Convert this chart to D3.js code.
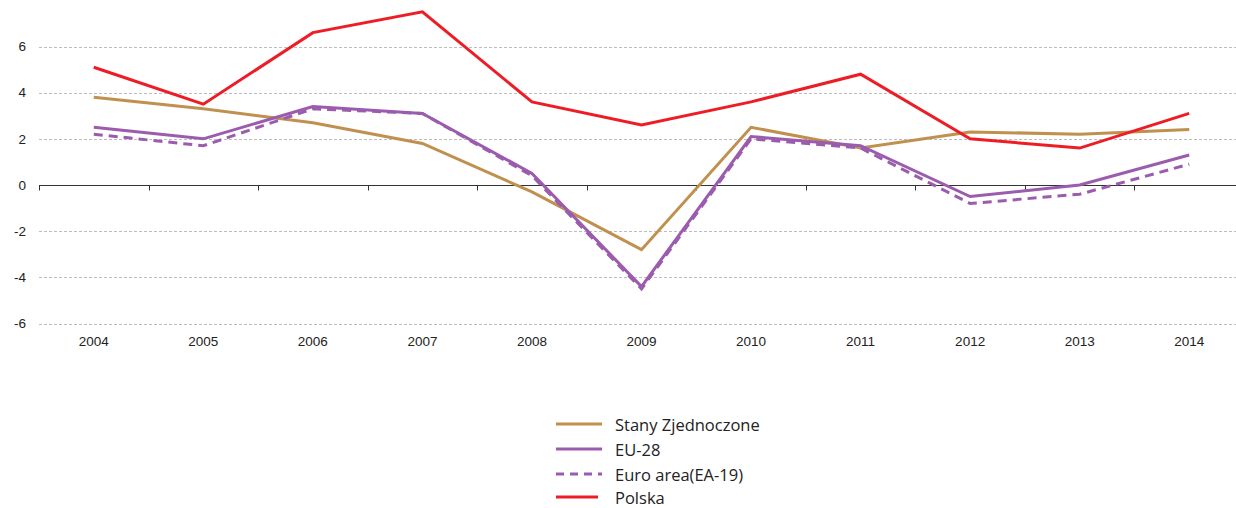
<!DOCTYPE html>
<html>
<head><meta charset="utf-8">
<title>GDP growth</title>
<style>
body { margin:0; background:#fff; }
.tick text { font-family:"Liberation Sans", Arial, sans-serif; font-size:13.5px; fill:#222; }
.legend text { font-family:"Open Sans", "Liberation Sans", sans-serif; font-size:16.5px; fill:#222; }
</style>
</head>
<body>
<svg width="1236" height="508"></svg>
<script src="https://d3js.org/d3.v7.min.js"></script>
<script>
var years = ["2004","2005","2006","2007","2008","2009","2010","2011","2012","2013","2014"];
var yTicks = [-6,-4,-2,0,2,4,6];
var usa = [3.8, 3.3, 2.7, 1.8, -0.3, -2.8, 2.5, 1.6, 2.3, 2.2, 2.4];
var eu28 = [2.5, 2.0, 3.4, 3.1, 0.5, -4.4, 2.1, 1.7, -0.5, 0.0, 1.3];
var ea19 = [2.2, 1.7, 3.3, 3.1, 0.4, -4.5, 2.0, 1.6, -0.8, -0.4, 0.9];
var polska = [5.1, 3.5, 6.6, 7.5, 3.6, 2.6, 3.6, 4.8, 2.0, 1.6, 3.1];

var series = [
  {name:"Stany Zjednoczone", values:usa, color:"#c0904f", dash:null},
  {name:"EU-28", values:eu28, color:"#9b5cae", dash:null},
  {name:"Euro area(EA-19)", values:ea19, color:"#9b5cae", dash:"9,6"},
  {name:"Polska", values:polska, color:"#ee1c25", dash:null}
];

var svg = d3.select("svg");
var x = d3.scaleBand().domain(years).range([39, 1244]);
var y = d3.scaleLinear().domain([-6, 6]).range([323.5, 46.5]);

// gridlines
svg.append("g").selectAll("line")
  .data(yTicks.filter(function(d) { return d !== 0; }))
  .enter().append("line")
    .attr("x1", 39).attr("x2", 1244)
    .attr("y1", function(d) { return Math.round(y(d)) + 0.5; })
    .attr("y2", function(d) { return Math.round(y(d)) + 0.5; })
    .attr("stroke", "#bdbdbd")
    .attr("stroke-dasharray", "3,2");

// y labels (plain hyphen for negatives like the original)
var yAxis = svg.append("g").attr("transform", "translate(26,0)")
  .call(d3.axisLeft(y).tickValues(yTicks).tickSize(0).tickPadding(0)
    .tickFormat(function(d) { return String(d); }));
yAxis.select(".domain").remove();

// zero axis with ticks between categories
var zy = Math.round(y(0)) + 0.5;
svg.append("line").attr("x1", 39).attr("x2", 1244).attr("y1", zy).attr("y2", zy)
  .attr("stroke", "#333").attr("stroke-width", 1);
svg.append("g").selectAll("line")
  .data(years)
  .enter().append("line")
    .attr("x1", function(d) { return Math.round(x(d)) + 0.5; })
    .attr("x2", function(d) { return Math.round(x(d)) + 0.5; })
    .attr("y1", zy).attr("y2", zy + 5)
    .attr("stroke", "#333");

// x labels
var xAxis = svg.append("g").attr("transform", "translate(0,330)")
  .call(d3.axisBottom(x).tickSize(0).tickPadding(6));
xAxis.select(".domain").remove();

var line = d3.line()
  .x(function(d, i) { return x(years[i]) + x.bandwidth() / 2; })
  .y(function(d) { return y(d); });

svg.append("g").selectAll("path")
  .data(series)
  .enter().append("path")
    .attr("d", function(s) { return line(s.values); })
    .attr("fill", "none")
    .attr("stroke", function(s) { return s.color; })
    .attr("stroke-width", 3)
    .attr("stroke-dasharray", function(s) { return s.dash; });

// legend
var legY = [424, 449, 474, 497];
var leg = svg.append("g").attr("class", "legend").selectAll("g")
  .data(series)
  .enter().append("g")
    .attr("transform", function(d, i) { return "translate(556," + legY[i] + ")"; });
leg.append("line")
  .attr("x1", 0).attr("x2", function(d, i) { return i === 3 ? 42 : 46; })
  .attr("stroke", function(d) { return d.color; })
  .attr("stroke-width", 3)
  .attr("stroke-dasharray", function(d) { return d.dash ? "8,6" : null; });
leg.append("text")
  .attr("x", 59).attr("y", 2).attr("dy", "0.32em")
  .text(function(d) { return d.name; });
</script>
</body>
</html>
